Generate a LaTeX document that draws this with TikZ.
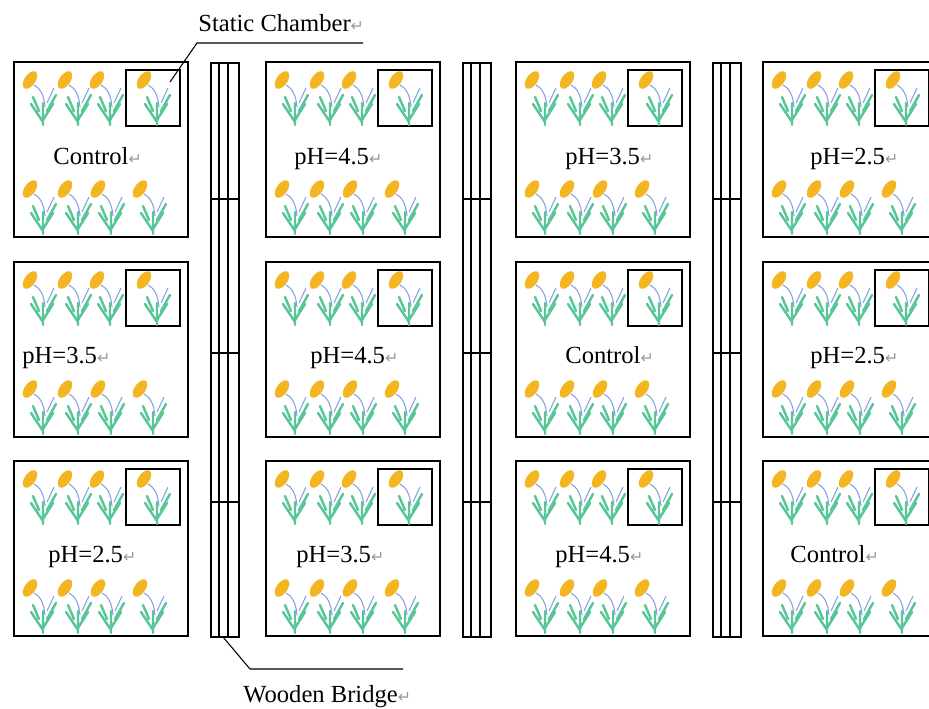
\documentclass[tikz,border=0pt]{standalone}
\usepackage{fontspec}
\setmainfont{Liberation Serif}
\newfontfamily\dejavu{DejaVu Sans}
\usetikzlibrary{calc}

\definecolor{ear}{RGB}{243,182,34}
\definecolor{leaf}{RGB}{88,198,150}
\definecolor{stalkblue}{RGB}{135,160,225}

% paragraph mark after each label
\newcommand{\retmark}{{\dejavu\fontsize{9}{9}\selectfont\color{black!40}↵}}

% one rice plant, base at the origin (y points down)
\tikzset{rice/.pic={
    \fill[ear, rotate around={-35:(-13,-45)}] (-13,-45) ellipse [x radius=5.5, y radius=10];
    \draw[stalkblue, line width=0.6pt] (-9,-40) .. controls (-3,-37) and (1,-30) .. (2,-18);
    \draw[stalkblue, line width=0.6pt] (4,-22) -- (11,-37);
    \draw[leaf, line width=1.4pt, line cap=round] (0,0) -- (0,-22)
        (0,-3) -- (-12,-21) (-4,-14) -- (-10,-28)
        (0,-5) -- (10,-21) (4,-14) -- (13,-30);
}}

\begin{document}
\begin{tikzpicture}[x=0.02cm,y=-0.02cm,
plot/.style={draw, line width=1.1pt},
chamber/.style={draw, line width=1.1pt},
plank/.style={draw, line width=0.8pt},
lead/.style={draw, line width=0.6pt},
lbl/.style={font=\fontsize{14}{16}\selectfont, inner sep=0pt, anchor=base west}]
\useasboundingbox (0,0) rectangle (929,709);
\clip (0,0) rectangle (929,709);

% plots with their static chamber and plants
\foreach \cx in {14,266,516,763} {
  \foreach \ry in {62,262,461} {
    \draw[plot] (\cx,\ry) rectangle +(174,175);
    \draw[chamber] (\cx+112,\ry+8) rectangle (\cx+166,\ry+64);
    \foreach \px in {29,64,96,143}
      \pic at (\cx+\px,\ry+63) {rice};
    \foreach \px in {29,64,97,139}
      \pic at (\cx+\px,\ry+172) {rice};
  }
}

% treatment of each plot
\foreach \lx/\ly/\txt in {53/165/Control, 294/165/pH=4.5, 565/165/pH=3.5, 810/165/pH=2.5,
    22/363/pH=3.5, 310/363/pH=4.5, 565/363/Control, 810/363/pH=2.5,
    48/562/pH=2.5, 296/562/pH=3.5, 555/562/pH=4.5, 790/562/Control}
  \node[lbl] at (\lx,\ly) {\txt\retmark};

% wooden bridges between the columns
\foreach \bx in {211,463,713} {
  \draw[plank] (\bx,63) rectangle (\bx+28,637);
  \foreach \dx in {8,17}
    \draw[plank] (\bx+\dx,63) -- (\bx+\dx,637);
  \foreach \yy in {199,353,502}
    \draw[plank] (\bx,\yy) -- (\bx+29,\yy);
}

% leaders
\node[lbl] (chlbl) at (198,32) {Static Chamber\retmark};
\coordinate (chtip) at (170,82);
\coordinate (chknee) at (197,43);
\draw[lead] (chtip) -- (chknee) -- ++(166,0);

\node[lbl] (brlbl) at (243,702) {Wooden Bridge\retmark};
\coordinate (brfoot) at (223,637);
\coordinate (brknee) at (250,669);
\draw[lead] (brfoot) -- (brknee) -- ++(153,0);
\end{tikzpicture}
\end{document}
